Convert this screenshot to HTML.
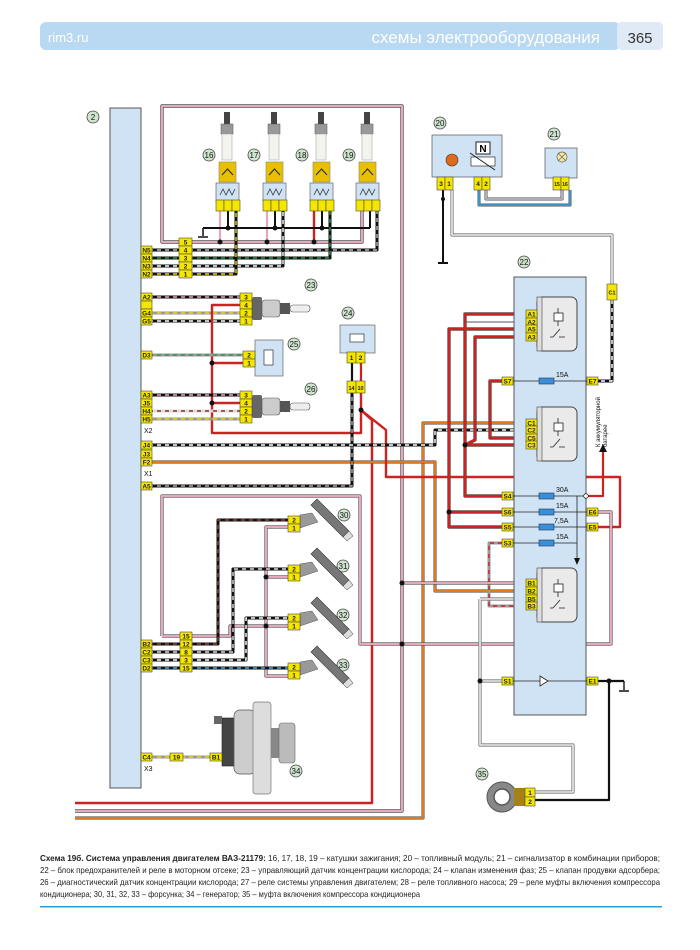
<!DOCTYPE html>
<html><head><meta charset="utf-8"><style>
html,body{margin:0;padding:0;background:#fff;width:700px;height:950px;overflow:hidden}
svg{display:block}
.p rect{fill:#f4e600;stroke:#4a4a3a;stroke-width:.6}
text{font-family:"Liberation Sans",sans-serif}
.pt{font-size:6.5px;font-weight:bold;fill:#222;text-anchor:middle}
.bd circle{fill:#cfe5cf;stroke:#444;stroke-width:.8}
.bd text{font-size:8px;text-anchor:middle;fill:#111}
.lb{font-size:7px;fill:#111}
</style></head><body>
<svg width="700" height="950" viewBox="0 0 700 950" xmlns="http://www.w3.org/2000/svg">
<!-- header -->
<rect x="40" y="22" width="580" height="28" rx="6" fill="#b9d8f2"/>
<rect x="617" y="22" width="46" height="28" rx="5" fill="#dfeaf6"/>
<text x="48" y="42" font-size="13" fill="#fff">rim3.ru</text>
<text x="600" y="43" font-size="17" fill="#fff" text-anchor="end">схемы электрооборудования</text>
<text x="640" y="43" font-size="15" fill="#333" text-anchor="middle">365</text>

<!-- ECU panel -->
<rect x="110" y="108" width="31" height="680" fill="#cfe3f5" stroke="#555" stroke-width="1"/>
<g class="bd"><circle cx="93" cy="117" r="6"/><text x="93" y="120">2</text></g>

<g fill="none" stroke-linejoin="round">
<path d="M75,811 H402 V106 H162 V242 H362 V204" stroke="#555" stroke-width="3.4"/>
<path d="M75,811 H402 V106 H162 V242 H362 V204" stroke="#e8a8bc" stroke-width="2"/>
<path d="M220,204 V242 M267,204 V242" stroke="#e8a8bc" stroke-width="2.2"/>
<path d="M75,803 H372 V420 L361,410" stroke="#c22" stroke-width="2.5"/>
<path d="M75,818 H423 V423 H526" stroke="#666" stroke-width="3.2"/>
<path d="M75,818 H423 V423 H526" stroke="#e07a1a" stroke-width="2"/>
<path d="M141,462 H435 V591 H526" stroke="#666" stroke-width="3.2"/>
<path d="M141,462 H435 V591 H526" stroke="#e07a1a" stroke-width="2"/>
<path d="M314,204 V242" stroke="#c22" stroke-width="2.4"/>
<path d="M203,228 H370 M228,204V228 M275,204V228 M322,204V228 M370,204V228" stroke="#111" stroke-width="2"/>
<path d="M203,228 V236 M198,237 H208" stroke="#111" stroke-width="1.5"/>
<path d="M141,250 H377 V204" stroke="#111" stroke-width="3"/><path d="M141,250 H377 V204" stroke="#bbb" stroke-width="1.4" stroke-dasharray="4 4"/>
<path d="M141,258 H330 V204" stroke="#111" stroke-width="3"/><path d="M141,258 H330 V204" stroke="#2a9a4a" stroke-width="1.4" stroke-dasharray="4 4"/>
<path d="M141,266 H283 V204" stroke="#111" stroke-width="3"/><path d="M141,266 H283 V204" stroke="#fff" stroke-width="1.4" stroke-dasharray="4 4"/>
<path d="M141,274 H236 V204" stroke="#111" stroke-width="3"/><path d="M141,274 H236 V204" stroke="#f0d800" stroke-width="1.4" stroke-dasharray="4 4"/>
<path d="M141,297 H245" stroke="#111" stroke-width="3"/><path d="M141,297 H245" stroke="#e8a8bc" stroke-width="1.4" stroke-dasharray="4 4"/>
<path d="M141,313 H245" stroke="#999" stroke-width="3"/><path d="M141,313 H245" stroke="#f0d800" stroke-width="1.4" stroke-dasharray="4 4"/>
<path d="M141,321 H245" stroke="#111" stroke-width="3"/><path d="M141,321 H245" stroke="#fff" stroke-width="1.4" stroke-dasharray="4 4"/>
<path d="M245,305 H212 V433 H361 V392 M212,363 H245 M212,403 H245" stroke="#c22" stroke-width="2.4"/>
<path d="M141,355 H245" stroke="#999" stroke-width="3"/><path d="M141,355 H245" stroke="#2a9a4a" stroke-width="1.4" stroke-dasharray="4 4"/>
<path d="M141,395 H245" stroke="#111" stroke-width="3"/><path d="M141,395 H245" stroke="#e8a8bc" stroke-width="1.4" stroke-dasharray="4 4"/>
<path d="M141,411 H245" stroke="#ddd" stroke-width="3"/><path d="M141,411 H245" stroke="#8a3020" stroke-width="1.4" stroke-dasharray="4 4"/>
<path d="M141,419 H245" stroke="#999" stroke-width="3"/><path d="M141,419 H245" stroke="#f0d800" stroke-width="1.4" stroke-dasharray="4 4"/>
<path d="M361,410 L372,420 M361,410 L386,430 V477 H620 V527 H597" stroke="#c22" stroke-width="2.4"/>
<path d="M141,486 H352 V392" stroke="#111" stroke-width="3"/><path d="M141,486 H352 V392" stroke="#aaa" stroke-width="1.4" stroke-dasharray="4 4"/>
<path d="M352,362 V383 M361,362 V383" stroke="#111" stroke-width="2.2"/>
<path d="M361,362 V383" stroke="#c22" stroke-width="2"/>
<path d="M141,445 H435 V430 H526" stroke="#111" stroke-width="3"/><path d="M141,445 H435 V430 H526" stroke="#fff" stroke-width="1.4" stroke-dasharray="4 4"/>
<path d="M526,314 H465 V496 H502 M526,337 H475 V440 L465,445 M526,329 H449 V527 H502 M449,512 H502 M502,381 H490 V438 H526 M465,445 H526" stroke="#555" stroke-width="3.4"/>
<path d="M526,314 H465 V496 H502 M526,337 H475 V440 L465,445 M526,329 H449 V527 H502 M449,512 H502 M502,381 H490 V438 H526 M465,445 H526" stroke="#c22" stroke-width="2.2"/>
<path d="M526,322 H465" stroke="#555" stroke-width="1"/>
<path d="M586,496 H603 V450" stroke="#c22" stroke-width="2.2"/>
<path d="M526,599 H489 V606 H526 M502,543 H489 V606" stroke="#999" stroke-width="3"/><path d="M502,543 H489 V606 H526" stroke="#c22" stroke-width="1.4" stroke-dasharray="4 4"/>
<path d="M402,583 H526 M402,644 H611 V512 H597" stroke="#555" stroke-width="3.2"/>
<path d="M402,583 H526 M402,644 H611 V512 H597" stroke="#e8a8bc" stroke-width="2"/>
<path d="M452,190 V235 H612 V290 M480,681 V745 H573 V792 H535 M480,681 H502 M480,599 H526 M480,599 V681" stroke="#777" stroke-width="3.2"/>
<path d="M452,190 V235 H612 V290 M480,681 V745 H573 V792 H535 M480,681 H502 M480,599 H526 M480,599 V681" stroke="#eee" stroke-width="1.6"/>
<path d="M612,300 V381 H597" stroke="#111" stroke-width="3"/><path d="M612,300 V381 H597" stroke="#fff" stroke-width="1.4" stroke-dasharray="4 4"/>
<path d="M597,681 H624 M609,681 V800 H535" stroke="#111" stroke-width="2.2"/>
<path d="M624,681 V690 M619,691 H629" stroke="#111" stroke-width="1.4"/>
<path d="M443,190 V262 M438,263 H448" stroke="#111" stroke-width="2"/>
<path d="M479,190 V205 H570 V190 M486,190 V199 H562 V190" stroke="#555" stroke-width="3"/>
<path d="M479,190 V205 H570 V190" stroke="#3a9ad8" stroke-width="1.8"/>
<path d="M486,190 V199 H562 V190" stroke="#bbb" stroke-width="1.8"/>
<path d="M162,636 V496 H360 V644 H402 M180,636 H162 M192,636 H230 V626 H288 M288,527 H266 V676 H288 M266,577 H288" stroke="#555" stroke-width="3.2"/>
<path d="M162,636 V496 H360 V644 H402 M180,636 H162 M192,636 H230 V626 H288 M288,527 H266 V676 H288 M266,577 H288" stroke="#e8a8bc" stroke-width="2"/>
<path d="M141,644 H218 V520 H288" stroke="#111" stroke-width="3"/><path d="M141,644 H218 V520 H288" stroke="#8a4a30" stroke-width="1.4" stroke-dasharray="4 4"/>
<path d="M141,652 H233 V569 H288" stroke="#111" stroke-width="3"/><path d="M141,652 H233 V569 H288" stroke="#ddd" stroke-width="1.4" stroke-dasharray="4 4"/>
<path d="M141,660 H246 V618 H288" stroke="#111" stroke-width="3"/><path d="M141,660 H246 V618 H288" stroke="#fff" stroke-width="1.4" stroke-dasharray="4 4"/>
<path d="M141,668 H288" stroke="#111" stroke-width="3"/><path d="M141,668 H288" stroke="#4aaee0" stroke-width="1.4" stroke-dasharray="4 4"/>
<path d="M141,757 H215" stroke="#999" stroke-width="3"/><path d="M141,757 H215" stroke="#f0d800" stroke-width="1.4" stroke-dasharray="4 4"/>
</g>
<g fill="#111"><circle cx="220" cy="242" r="2.5"/><circle cx="267" cy="242" r="2.5"/><circle cx="314" cy="242" r="2.5"/><circle cx="228" cy="228" r="2.5"/><circle cx="275" cy="228" r="2.5"/><circle cx="322" cy="228" r="2.5"/>
<circle cx="212" cy="363" r="2.5"/><circle cx="212" cy="403" r="2.5"/><circle cx="361" cy="410" r="2.5"/><circle cx="465" cy="445" r="2.5"/><circle cx="449" cy="512" r="2.5"/>
<circle cx="402" cy="583" r="2.5"/><circle cx="402" cy="644" r="2.5"/><circle cx="266" cy="577" r="2.5"/><circle cx="266" cy="626" r="2.5"/><circle cx="480" cy="681" r="2.5"/><circle cx="609" cy="681" r="2.5"/><circle cx="443" cy="199" r="2"/></g>
<polygon points="599,452 607,452 603,444" fill="#111"/>

<g id="c16">
<rect x="224" y="112" width="6" height="14" fill="#444"/><rect x="221" y="124" width="12" height="10" fill="#999" stroke="#555" stroke-width=".5"/>
<rect x="222" y="134" width="10" height="26" fill="#f4f4ee" stroke="#aaa" stroke-width=".6"/>
<rect x="219" y="162" width="17" height="20" fill="#e8c000" stroke="#887" stroke-width=".6"/><path d="M222,175 L227.5,169 L233,175" fill="none" stroke="#333" stroke-width="1.2"/>
<rect x="216" y="183" width="23" height="18" fill="#cfe3f5" stroke="#666" stroke-width=".7"/><path d="M220,195 l3,-6 l3,6 l3,-6 l3,6 l3,-6" fill="none" stroke="#333" stroke-width=".8"/>
<g class="p"><rect x="216" y="200" width="8" height="11"/><rect x="224" y="200" width="8" height="11"/><rect x="232" y="200" width="8" height="11"/></g>
</g>
<use href="#c16" x="47"/><use href="#c16" x="94"/><use href="#c16" x="140"/>
<g class="bd"><circle cx="209" cy="155" r="6"/><text x="209" y="158">16</text><circle cx="254" cy="155" r="6"/><text x="254" y="158">17</text><circle cx="302" cy="155" r="6"/><text x="302" y="158">18</text><circle cx="349" cy="155" r="6"/><text x="349" y="158">19</text>
<circle cx="311" cy="285" r="6"/><text x="311" y="288">23</text><circle cx="348" cy="313" r="6"/><text x="348" y="316">24</text><circle cx="294" cy="344" r="6"/><text x="294" y="347">25</text><circle cx="311" cy="389" r="6"/><text x="311" y="392">26</text>
<circle cx="440" cy="123" r="6"/><text x="440" y="126">20</text><circle cx="554" cy="134" r="6"/><text x="554" y="137">21</text><circle cx="524" cy="262" r="6"/><text x="524" y="265">22</text>
<circle cx="572" cy="290" r="6"/><text x="572" y="293">27</text><circle cx="572" cy="396" r="6"/><text x="572" y="399">28</text><circle cx="557" cy="630" r="6"/><text x="557" y="633">29</text>
<circle cx="344" cy="515" r="6"/><text x="344" y="518">30</text><circle cx="343" cy="566" r="6"/><text x="343" y="569">31</text><circle cx="343" cy="615" r="6"/><text x="343" y="618">32</text><circle cx="343" cy="665" r="6"/><text x="343" y="668">33</text>
<circle cx="296" cy="771" r="6"/><text x="296" y="774">34</text><circle cx="482" cy="774" r="6"/><text x="482" y="777">35</text></g>

<g id="o2"><rect x="252" y="297" width="10" height="23" fill="#666" rx="2"/><rect x="262" y="300" width="18" height="17" fill="#ccc" stroke="#555" stroke-width=".6" rx="3"/><rect x="280" y="303" width="10" height="11" fill="#555"/><rect x="290" y="305" width="20" height="7" fill="#eee" stroke="#555" stroke-width=".6" rx="3"/></g>
<use href="#o2" y="98"/>
<rect x="255" y="340" width="28" height="36" fill="#cfe3f5" stroke="#666" stroke-width=".7"/><rect x="264" y="350" width="9" height="15" fill="#fff" stroke="#333" stroke-width=".7"/>
<rect x="340" y="325" width="35" height="28" fill="#cfe3f5" stroke="#666" stroke-width=".7"/><rect x="350" y="334" width="14" height="8" fill="#fff" stroke="#333" stroke-width=".7"/>
<rect x="432" y="135" width="70" height="42" fill="#cfe3f5" stroke="#666" stroke-width=".8"/><circle cx="452" cy="160" r="6" fill="#e06a1a" stroke="#333" stroke-width=".6"/>
<rect x="476" y="142" width="14" height="12" fill="#fff" stroke="#222"/><text x="483" y="152" font-size="10" font-weight="bold" text-anchor="middle">N</text><rect x="471" y="157" width="24" height="9" fill="#fff" stroke="#333" stroke-width=".7"/><path d="M470,153 L495,170" stroke="#222"/>
<rect x="545" y="148" width="32" height="30" fill="#cfe3f5" stroke="#666" stroke-width=".8"/><circle cx="562" cy="157" r="5" fill="#f5e6a0" stroke="#666" stroke-width=".7"/><path d="M558,153 l8,8 M566,153 l-8,8" stroke="#666" stroke-width=".7"/>
<rect x="514" y="277" width="72" height="438" fill="#cfe3f5" stroke="#555" stroke-width="1"/>
<g id="rl"><rect x="537" y="297" width="40" height="54" rx="6" fill="#eaeaea" stroke="#444" stroke-width="1"/><rect x="537" y="297" width="5" height="54" fill="#ddd" stroke="#444" stroke-width=".6"/><rect x="554" y="313" width="9" height="8" fill="#fff" stroke="#222" stroke-width=".8"/><path d="M558,308 V313 M558,321 V326 M553,337 L560,329 M559,337 H565 M553,337 H550" stroke="#222" stroke-width=".8" fill="none"/></g>
<use href="#rl" y="110"/><use href="#rl" y="271"/>
<g stroke="#222" stroke-width=".8" fill="none"><path d="M512,381 H587 M512,496 H586 M512,512 H587 M512,527 H587 M512,543 H577 V560 M577,496 V560 M512,681 H587"/></g>
<polygon points="574,558 580,558 577,565" fill="#111"/>
<circle cx="586" cy="496" r="2.3" fill="#fff" stroke="#222" stroke-width=".8"/>
<g fill="#3a8fd8" stroke="#235" stroke-width=".6"><rect x="539" y="378" width="15" height="6"/><rect x="539" y="493" width="15" height="6"/><rect x="539" y="509" width="15" height="6"/><rect x="539" y="524" width="15" height="6"/><rect x="539" y="540" width="15" height="6"/></g>
<g class="lb" font-size="6.5"><text x="556" y="377">15A</text><text x="556" y="492">30A</text><text x="556" y="508">15A</text><text x="554" y="523">7,5A</text><text x="556" y="539">15A</text></g>
<path d="M548,681 L540,676 V686 Z M540,676 V686" fill="#fff" stroke="#222" stroke-width=".8"/>
<text transform="translate(600,447) rotate(-90)" font-size="6" fill="#111">К аккумуляторной</text><text transform="translate(607,447) rotate(-90)" font-size="6" fill="#111">батарее</text>
<g id="inj"><path d="M300,515 L312,513 L318,522 L300,528 Z" fill="#999" stroke="#555" stroke-width=".5"/><path d="M311,505 L317,499 L349,531 L343,537 Z" fill="#777" stroke="#333" stroke-width=".6"/><path d="M343,537 L349,531 L353,536 L347,541 Z" fill="#ddd" stroke="#333" stroke-width=".5"/></g>
<use href="#inj" y="49"/><use href="#inj" y="98"/><use href="#inj" y="147"/>
<rect x="222" y="718" width="14" height="48" fill="#444" stroke="#222" stroke-width=".6"/>
<rect x="234" y="710" width="22" height="64" rx="6" fill="#ccc" stroke="#555" stroke-width=".7"/>
<rect x="253" y="702" width="18" height="92" rx="3" fill="#ddd" stroke="#777" stroke-width=".7"/>
<rect x="271" y="728" width="8" height="30" fill="#888"/><rect x="279" y="723" width="16" height="40" rx="3" fill="#bbb" stroke="#666" stroke-width=".6"/>
<rect x="214" y="716" width="8" height="8" fill="#666"/>
<circle cx="502" cy="797" r="15" fill="#888" stroke="#555"/><circle cx="502" cy="797" r="8" fill="#fff" stroke="#555" stroke-width="1.5"/>
<rect x="514" y="788" width="11" height="18" fill="#a8801a"/>

<g class="p">
<rect x="141" y="246" width="11" height="8"/><rect x="141" y="254" width="11" height="8"/><rect x="141" y="262" width="11" height="8"/><rect x="141" y="270" width="11" height="8"/>
<rect x="179" y="238" width="13" height="8"/><rect x="179" y="246" width="13" height="8"/><rect x="179" y="254" width="13" height="8"/><rect x="179" y="262" width="13" height="8"/><rect x="179" y="270" width="13" height="8"/>
<rect x="141" y="293" width="11" height="8"/><rect x="141" y="301" width="11" height="8"/><rect x="141" y="309" width="11" height="8"/><rect x="141" y="317" width="11" height="8"/>
<rect x="240" y="293" width="12" height="8"/><rect x="240" y="301" width="12" height="8"/><rect x="240" y="309" width="12" height="8"/><rect x="240" y="317" width="12" height="8"/>
<rect x="141" y="351" width="11" height="8"/><rect x="243" y="351" width="12" height="8"/><rect x="243" y="359" width="12" height="8"/>
<rect x="141" y="391" width="11" height="8"/><rect x="141" y="399" width="11" height="8"/><rect x="141" y="407" width="11" height="8"/><rect x="141" y="415" width="11" height="8"/>
<rect x="240" y="391" width="12" height="8"/><rect x="240" y="399" width="12" height="8"/><rect x="240" y="407" width="12" height="8"/><rect x="240" y="415" width="12" height="8"/>
<rect x="141" y="441" width="11" height="8"/><rect x="141" y="450" width="11" height="8"/><rect x="141" y="458" width="11" height="8"/><rect x="141" y="482" width="11" height="8"/>
<rect x="347" y="352" width="9" height="11"/><rect x="356" y="352" width="9" height="11"/><rect x="347" y="381" width="9" height="12"/><rect x="356" y="381" width="9" height="12"/>
<rect x="437" y="177" width="8" height="13"/><rect x="445" y="177" width="8" height="13"/><rect x="474" y="177" width="8" height="13"/><rect x="482" y="177" width="8" height="13"/><rect x="553" y="177" width="8" height="13"/><rect x="561" y="177" width="8" height="13"/>
<rect x="607" y="284" width="10" height="16"/>
<rect x="526" y="310" width="11" height="8"/><rect x="526" y="318" width="11" height="8"/><rect x="526" y="325" width="11" height="8"/><rect x="526" y="333" width="11" height="8"/>
<rect x="502" y="377" width="11" height="8"/><rect x="587" y="377" width="11" height="8"/>
<rect x="526" y="419" width="11" height="8"/><rect x="526" y="426" width="11" height="8"/><rect x="526" y="434" width="11" height="8"/><rect x="526" y="441" width="11" height="8"/>
<rect x="502" y="492" width="11" height="8"/><rect x="502" y="508" width="11" height="8"/><rect x="502" y="523" width="11" height="8"/><rect x="502" y="539" width="11" height="8"/><rect x="587" y="508" width="11" height="8"/><rect x="587" y="523" width="11" height="8"/>
<rect x="526" y="579" width="11" height="8"/><rect x="526" y="587" width="11" height="8"/><rect x="526" y="595" width="11" height="8"/><rect x="526" y="602" width="11" height="8"/>
<rect x="502" y="677" width="11" height="8"/><rect x="587" y="677" width="11" height="8"/>
<rect x="288" y="516" width="12" height="8"/><rect x="288" y="524" width="12" height="8"/><rect x="288" y="565" width="12" height="8"/><rect x="288" y="573" width="12" height="8"/><rect x="288" y="614" width="12" height="8"/><rect x="288" y="622" width="12" height="8"/><rect x="288" y="663" width="12" height="8"/><rect x="288" y="671" width="12" height="8"/>
<rect x="180" y="632" width="12" height="8"/><rect x="180" y="640" width="12" height="8"/><rect x="180" y="648" width="12" height="8"/><rect x="180" y="656" width="12" height="8"/><rect x="180" y="664" width="12" height="8"/>
<rect x="141" y="640" width="11" height="8"/><rect x="141" y="648" width="11" height="8"/><rect x="141" y="656" width="11" height="8"/><rect x="141" y="664" width="11" height="8"/>
<rect x="141" y="753" width="11" height="8"/><rect x="170" y="753" width="13" height="8"/><rect x="210" y="753" width="12" height="8"/>
<rect x="525" y="788" width="10" height="9"/><rect x="525" y="797" width="10" height="9"/>
</g>
<g class="pt">
<text x="146.5" y="252.5">N5</text><text x="146.5" y="260.5">N4</text><text x="146.5" y="268.5">N3</text><text x="146.5" y="276.5">N2</text>
<text x="185.5" y="244.5">5</text><text x="185.5" y="252.5">4</text><text x="185.5" y="260.5">3</text><text x="185.5" y="268.5">2</text><text x="185.5" y="276.5">1</text>
<text x="146.5" y="299.5">A2</text><text x="146.5" y="315.5">G4</text><text x="146.5" y="323.5">G5</text>
<text x="246" y="299.5">3</text><text x="246" y="307.5">4</text><text x="246" y="315.5">2</text><text x="246" y="323.5">1</text>
<text x="146.5" y="357.5">D3</text><text x="249" y="357.5">2</text><text x="249" y="365.5">1</text>
<text x="146.5" y="397.5">A3</text><text x="146.5" y="405.5">J5</text><text x="146.5" y="413.5">H4</text><text x="146.5" y="421.5">H5</text>
<text x="246" y="397.5">3</text><text x="246" y="405.5">4</text><text x="246" y="413.5">2</text><text x="246" y="421.5">1</text>
<text x="146.5" y="447.5">J4</text><text x="146.5" y="456.5">J3</text><text x="146.5" y="464.5">F2</text><text x="146.5" y="488.5">A5</text>
<text x="351.5" y="360">1</text><text x="360.5" y="360">2</text><text x="351.5" y="390" font-size="5.5">14</text><text x="360.5" y="390" font-size="5.5">10</text>
<text x="441" y="186">3</text><text x="449" y="186">1</text><text x="478" y="186">4</text><text x="486" y="186">2</text><text x="557" y="186" font-size="5">15</text><text x="565" y="186" font-size="5">16</text>
<text x="612" y="294.5" font-size="5.5">C1</text>
<text x="531.5" y="316.5">A1</text><text x="531.5" y="324.5">A2</text><text x="531.5" y="331.5">A5</text><text x="531.5" y="339.5">A3</text>
<text x="507.5" y="383.5">S7</text><text x="592.5" y="383.5">E7</text>
<text x="531.5" y="425.5">C1</text><text x="531.5" y="432.5">C2</text><text x="531.5" y="440.5">C5</text><text x="531.5" y="447.5">C3</text>
<text x="507.5" y="498.5">S4</text><text x="507.5" y="514.5">S6</text><text x="507.5" y="529.5">S5</text><text x="507.5" y="545.5">S3</text><text x="592.5" y="514.5">E6</text><text x="592.5" y="529.5">E5</text>
<text x="531.5" y="585.5">B1</text><text x="531.5" y="593.5">B2</text><text x="531.5" y="601.5">B5</text><text x="531.5" y="608.5">B3</text>
<text x="507.5" y="683.5">S1</text><text x="592.5" y="683.5">E1</text>
<text x="294" y="522.5">2</text><text x="294" y="530.5">1</text><text x="294" y="571.5">2</text><text x="294" y="579.5">1</text><text x="294" y="620.5">2</text><text x="294" y="628.5">1</text><text x="294" y="669.5">2</text><text x="294" y="677.5">1</text>
<text x="186" y="638.5">15</text><text x="186" y="646.5">12</text><text x="186" y="654.5">8</text><text x="186" y="662.5">3</text><text x="186" y="670.5">15</text>
<text x="146.5" y="646.5">B2</text><text x="146.5" y="654.5">C2</text><text x="146.5" y="662.5">C3</text><text x="146.5" y="670.5">D2</text>
<text x="146.5" y="759.5">C4</text><text x="176.5" y="759.5">19</text><text x="216" y="759.5">B1</text>
<text x="530" y="795">1</text><text x="530" y="804">2</text>
</g>
<g class="lb" font-size="6.5"><text x="144" y="433">X2</text><text x="144" y="476">X1</text><text x="144" y="771">X3</text></g>

<g font-size="8.2" fill="#222" font-family="'Liberation Sans Narrow','Liberation Sans',sans-serif">
<text x="40" y="861" textLength="620" lengthAdjust="spacingAndGlyphs"><tspan font-weight="bold">Схема 19б. Система управления двигателем ВАЗ-21179:</tspan> 16, 17, 18, 19 – катушки зажигания; 20 – топливный модуль; 21 – сигнализатор в комбинации приборов;</text>
<text x="40" y="873" textLength="620" lengthAdjust="spacingAndGlyphs">22 – блок предохранителей и реле в моторном отсеке; 23 – управляющий датчик концентрации кислорода; 24 – клапан изменения фаз; 25 – клапан продувки адсорбера;</text>
<text x="40" y="885" textLength="620" lengthAdjust="spacingAndGlyphs">26 – диагностический датчик концентрации кислорода; 27 – реле системы управления двигателем; 28 – реле топливного насоса; 29 – реле муфты включения компрессора</text>
<text x="40" y="897" textLength="380" lengthAdjust="spacingAndGlyphs">кондиционера; 30, 31, 32, 33 – форсунка; 34 – генератор; 35 – муфта включения компрессора кондиционера</text>
</g>
<rect x="40" y="906" width="622" height="1.5" fill="#2a9ae0"/>
</svg>
</body></html>
